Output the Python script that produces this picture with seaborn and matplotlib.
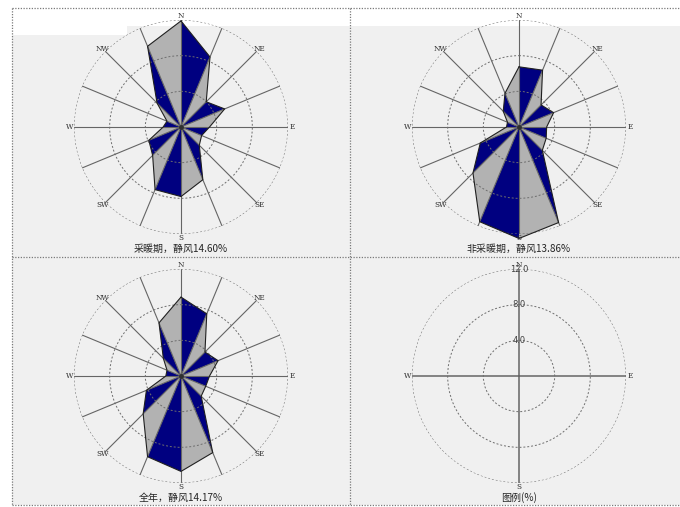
import numpy as np
import matplotlib
matplotlib.use("Agg")
import matplotlib.pyplot as plt
from matplotlib.patches import Rectangle
from matplotlib.lines import Line2D
import seaborn as sns

# 16-point compass, clockwise from north
directions = ["N", "NNE", "NE", "ENE", "E", "ESE", "SE", "SSE",
              "S", "SSW", "SW", "WSW", "W", "WNW", "NW", "NNW"]
compass_labels = ["N", "", "NE", "", "E", "", "SE", "",
                  "S", "", "SW", "", "W", "", "NW", ""]

# wind direction frequency (%)
heating = [11.9, 8.5, 4.0, 5.3, 3.2, 2.5, 2.9, 6.4,
           7.8, 7.6, 4.5, 3.9, 2.0, 1.7, 3.8, 9.8]
non_heating = [6.75, 6.9, 3.5, 4.2, 3.1, 3.3, 3.7, 11.6,
               12.5, 11.5, 7.3, 4.7, 1.4, 1.4, 2.5, 4.1]
annual = [8.85, 7.55, 3.8, 4.5, 3.2, 3.0, 3.2, 9.3,
          10.7, 9.8, 6.0, 4.2, 1.7, 1.7, 2.8, 6.45]

titles = ["采暖期，静风14.60%", "非采暖期，静风13.86%", "全年，静风14.17%"]
legend_title = "图例(%)"
ring_values = [4.0, 8.0, 12.0]
legend_dirs = ["N", "", "", "", "E", "", "", "", "S", "", "", "", "W", "", "", ""]

sns.set_theme(style="white")
plt.rcParams["font.family"] = ["Noto Sans CJK SC", "DejaVu Sans"]

NAVY = "#000080"
GREY = "#b2b2b2"
BG = "#f0f0f0"
SPOKE = "#656565"
RING = "#6e6e6e"
LABEL_R = 12.45

W, H = 680, 507
fig = plt.figure(figsize=(W / 100, H / 100), dpi=100)
fig.patch.set_facecolor("white")


def fx(x):
    return x / W


def fy(y):
    return 1 - y / H


# panel background and the white band across the top
fig.add_artist(Rectangle((fx(12), fy(505)), fx(668), 497 / H,
                         transform=fig.transFigure, facecolor=BG,
                         edgecolor="none", zorder=0))
fig.add_artist(Rectangle((fx(12), fy(26)), fx(668), 18 / H,
                         transform=fig.transFigure, facecolor="white",
                         edgecolor="none", zorder=0))
fig.add_artist(Rectangle((fx(12), fy(35)), fx(115), 27 / H,
                         transform=fig.transFigure, facecolor="white",
                         edgecolor="none", zorder=0))

# dotted frame and panel separators
dot = dict(color="#7a7a7a", lw=0.9, linestyle=(0, (1, 1.2)),
           transform=fig.transFigure, zorder=5)
for xs, ys in [((12, 680), (8, 8)), ((12, 680), (505, 505)),
               ((12, 12), (8, 505)), ((350, 350), (8, 505)),
               ((12, 680), (257, 257))]:
    fig.add_artist(Line2D([fx(xs[0]), fx(xs[1])], [fy(ys[0]), fy(ys[1])], **dot))

R_PX = 107
centers = [(181, 127), (519, 127), (181, 376), (519, 376)]
theta = np.deg2rad(np.arange(len(directions)) * 22.5)


def make_polar(cx, cy, labels, spoke_lw):
    ax = fig.add_axes([fx(cx - R_PX), fy(cy + R_PX), 2 * R_PX / W, 2 * R_PX / H],
                      projection="polar")
    ax.set_facecolor("none")
    ax.set_theta_zero_location("N")
    ax.set_theta_direction(-1)
    ax.set_rlim(0, 12)
    ax.set_rticks(ring_values)
    ax.set_yticklabels([])
    ax.spines["polar"].set_visible(False)
    ax.yaxis.grid(True, color=RING, lw=0.7, linestyle=(0, (2, 2)))
    ax.set_axisbelow(False)
    # spokes only where a direction is used
    spokes = [t for t, lab in zip(theta, labels) if lab] if spoke_lw > 0.9 else list(theta)
    ax.set_xticks(spokes)
    ax.set_xticklabels([])
    ax.xaxis.grid(True, color=SPOKE, lw=spoke_lw, linestyle="-")
    for t, lab in zip(theta, labels):
        if lab:
            ax.text(t, LABEL_R, lab, ha="center", va="center", fontsize=5.2,
                    family="DejaVu Serif", color="#303030", clip_on=False, zorder=6)
    return ax


for (cx, cy), values, title in zip(centers[:3], [heating, non_heating, annual], titles):
    ax = make_polar(cx, cy, compass_labels, 0.8)
    r = np.asarray(values)
    n = len(r)
    for i in range(n):
        j = (i + 1) % n
        ax.fill([0, theta[i], theta[j]], [0, r[i], r[j]],
                color=NAVY if i % 2 == 0 else GREY, lw=0, clip_on=False, zorder=1)
    ax.plot(np.append(theta, theta[0]), np.append(r, r[0]),
            color="#202020", lw=0.8, clip_on=False, zorder=3)
    ax.plot([0], [0], marker="o", ms=2.5, color="#303030", zorder=4)
    fig.text(fx(cx), fy(cy + 122), title, ha="center", va="center", fontsize=7.2)

# scale legend panel
cx, cy = centers[3]
ax = make_polar(cx, cy, legend_dirs, 1.1)
for rv in ring_values:
    ax.text(0, rv, f"{rv:.1f}", ha="center", va="center", fontsize=6,
            family="DejaVu Sans", color="#404040", zorder=7)
fig.text(fx(cx), fy(cy + 122), legend_title, ha="center", va="center", fontsize=7.2)

fig.savefig("out.png", dpi=100, facecolor=fig.get_facecolor())
